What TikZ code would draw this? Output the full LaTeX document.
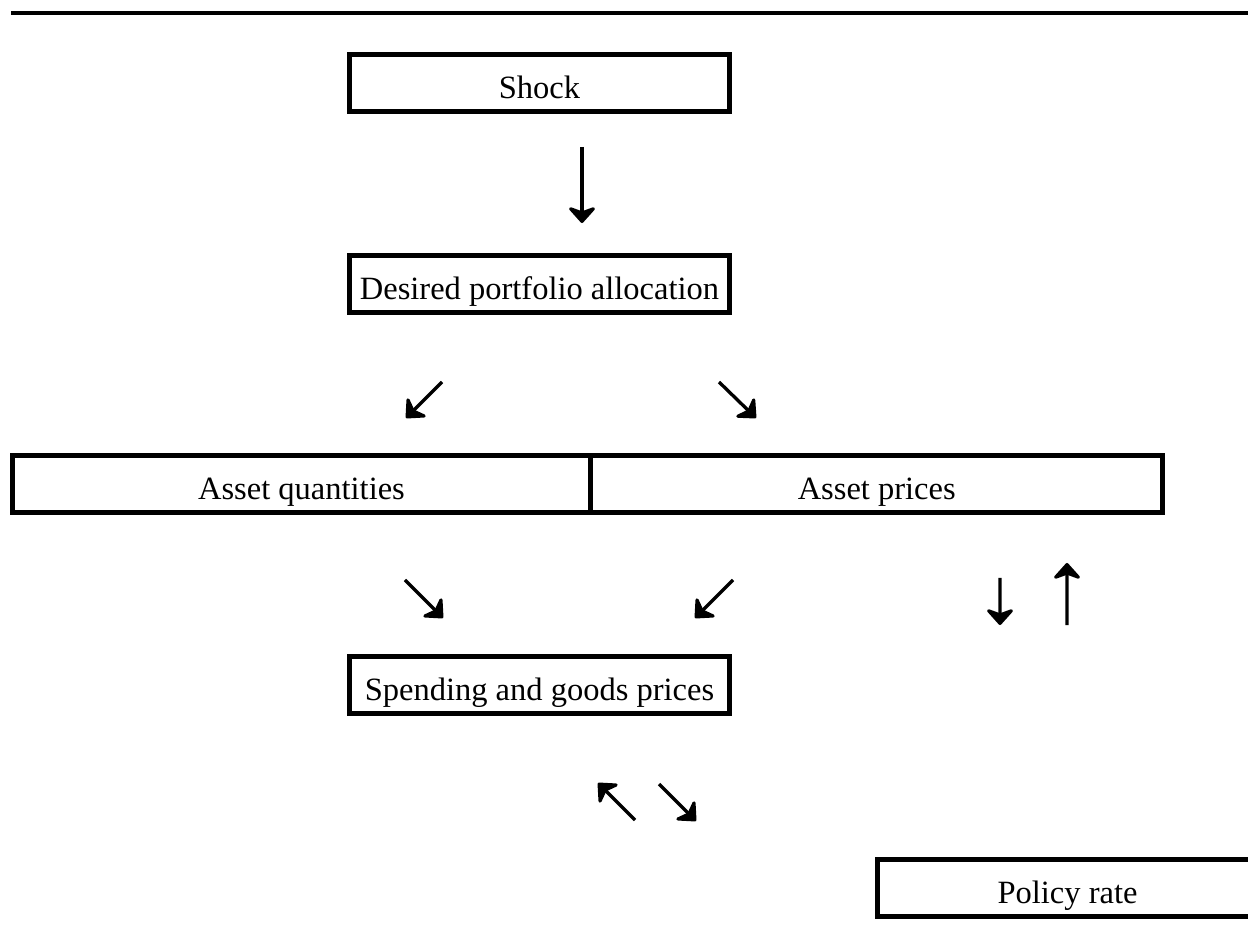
\documentclass[tikz,border=0pt]{standalone}
\usepackage{fontspec}
\setmainfont{Liberation Serif}
\usetikzlibrary{arrows.meta}

\begin{document}
\begin{tikzpicture}[x=0.02cm, y=-0.02cm,
    box/.style={draw, line width=2.8pt, outer sep=0pt, inner sep=0pt,
      minimum width=7.6cm, minimum height=1.14cm,
      text height=0.64cm, text depth=0cm,
      font=\fontsize{18.5}{22}\selectfont},
    arr/.style={line width=1.9pt, -{Stealth[length=0.37cm, width=0.66cm, inset=0.12cm, round]}}]
  \useasboundingbox (0,0) rectangle (1248,949);
  \clip (0,0) rectangle (1248,949);
  \draw[line width=2.3pt] (11,13) -- (1248,13);
  % boxes
  \node[box] (shock) at (539.5,83) {Shock};
  \node[box] (desired) at (539.5,284) {Desired portfolio allocation};
  \node[box, minimum width=11.56cm] (quant) at (301.5,484) {Asset quantities};
  \node[box, minimum width=11.45cm] (prices) at (876.75,484) {Asset prices};
  \node[box] (spend) at (539.5,685) {Spending and goods prices};
  \node[box] (policy) at (1067.5,888) {Policy rate};
  % arrows
  \draw[arr] ([shift={(42.5,35.5)}]shock.south) -- ([shift={(42.5,-32.5)}]desired.north);
  \draw[arr] ([shift={(-97.5,69.5)}]desired.south) -- ([shift={(104.5,-37.5)}]quant.north);
  \draw[arr] ([shift={(179.5,69.5)}]desired.south) -- ([shift={(-120.75,-37.5)}]prices.north);
  \draw[arr] ([shift={(103.5,67.5)}]quant.south) -- ([shift={(-96.5,-38.5)}]spend.north);
  \draw[arr] ([shift={(-143.75,67.5)}]prices.south) -- ([shift={(155.5,-38.5)}]spend.north);
  \draw[arr] ([shift={(123.25,65.5)}]prices.south) -- ([shift={(-67.5,-234.5)}]policy.north);
  \draw[arr] ([shift={(-0.5,-234.5)}]policy.north) -- ([shift={(190.25,50.5)}]prices.south);
  \draw[arr] ([shift={(-242.5,-68)}]policy.west) -- ([shift={(58.5,69.5)}]spend.south);
  \draw[arr] ([shift={(119.5,70.5)}]spend.south) -- ([shift={(-181.5,-67)}]policy.west);
\end{tikzpicture}
\end{document}
